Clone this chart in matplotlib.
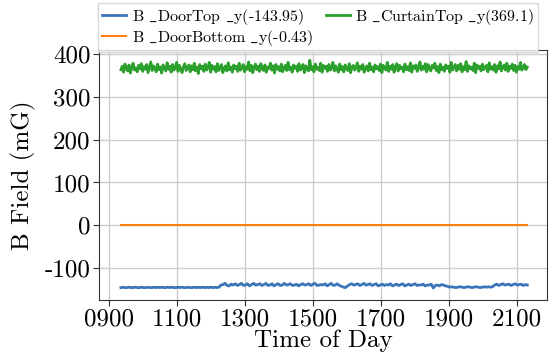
import numpy as np
import matplotlib
matplotlib.use("Agg")
import matplotlib.pyplot as plt

plt.rcParams["font.family"] = ["cmr10", "DejaVu Serif"]
plt.rcParams["mathtext.fontset"] = "cm"
plt.rcParams["axes.unicode_minus"] = False
plt.rcParams["axes.formatter.use_mathtext"] = False

t_start, t_end = 9.35, 21.3  # hours

# sensor readings, mG
door_top = [
    -146, -145, -146, -146, -145, -146, -146, -145, -146, -146,
    -145, -146, -146, -145, -146, -146, -145, -146, -145, -146,
    -145, -146, -146, -145, -146, -145, -146, -146, -145, -146,
    -145, -146, -146, -145, -146, -146, -145, -146, -145, -146,
    -145, -146, -145, -146, -145, -146, -145, -146, -145, -140,
    -139, -136, -141, -142, -138, -140, -137, -141, -139, -136,
    -141, -140, -137, -142, -139, -136, -140, -139, -137, -141,
    -139, -136, -141, -140, -137, -142, -139, -137, -141, -140,
    -136, -140, -139, -137, -141, -140, -138, -142, -139, -137,
    -140, -139, -137, -141, -138, -136, -141, -140, -139, -140,
    -137, -142, -139, -136, -141, -140, -137, -141, -143, -145,
    -146, -142, -139, -137, -140, -139, -137, -141, -139, -136,
    -140, -139, -137, -141, -139, -137, -142, -140, -138, -141,
    -139, -140, -137, -142, -140, -138, -141, -139, -137, -142,
    -140, -138, -141, -139, -137, -141, -140, -140, -138, -142,
    -140, -140, -138, -147, -141, -140, -142, -139, -140, -142,
    -143, -145, -144, -145, -146, -145, -144, -145, -146, -145,
    -144, -145, -146, -145, -144, -145, -146, -145, -144, -145,
    -144, -145, -144, -140, -138, -141, -139, -137, -140, -139,
    -138, -141, -139, -137, -140, -139, -138, -141, -139, -140,
]

door_bottom = [-0.43, -0.43]

curtain_top = [
    364, 372, 358, 377, 367, 361, 375, 356, 370, 379, 363, 368, 359, 374, 366,
    378, 360, 371, 365, 376, 357, 369, 382, 362, 373, 367, 359, 377, 364, 370,
    356, 375, 368, 361, 380, 365, 372, 358, 376, 363, 369, 381, 360, 374, 366,
    357, 371, 378, 362, 367, 375, 359, 373, 364, 379, 361, 370, 355, 376, 366,
    372, 360, 377, 363, 368, 381, 358, 374, 365, 371, 359, 378, 362, 369, 376,
    357, 367, 373, 361, 380, 364, 370, 358, 375, 366, 372, 360, 379, 363, 368,
    376, 359, 371, 365, 382, 361, 374, 357, 369, 377, 364, 372, 360, 378, 366,
    362, 375, 358, 370, 367, 379, 363, 373, 356, 376, 365, 371, 361, 377, 359,
    368, 374, 362, 381, 364, 370, 358, 375, 367, 372, 360, 378, 363, 369, 376,
    357, 373, 366, 361, 386, 364, 371, 359, 377, 365, 370, 362, 379, 358, 374,
    367, 372, 360, 376, 363, 368, 381, 361, 373, 365, 358, 377, 364, 371, 359,
    375, 366, 362, 378, 357, 370, 374, 363, 369, 380, 360, 372, 365, 376, 358,
    367, 373, 361, 379, 364, 370, 359, 375, 366, 371, 362, 377, 357, 374, 368,
    363, 381, 360, 372, 365, 376, 358, 369, 378, 361, 374, 366, 370, 359, 377,
    364, 371, 362, 380, 358, 373, 367, 375, 360, 369, 382, 363, 372, 365, 378,
    359, 376, 366, 361, 374, 368, 379, 362, 371, 357, 377, 364, 370, 360, 375,
    367, 372, 358, 381, 363, 369, 376, 361, 374, 365, 378, 359, 371, 364, 383,
    360, 373, 366, 370, 362, 379, 357, 375, 367, 372, 361, 377, 364, 369, 374,
    359, 380, 365, 371, 363, 376, 358, 373, 366, 382, 361, 370, 375, 363, 379,
    360, 372, 367, 377, 362, 374, 358, 371, 365, 381, 363, 369, 376, 364, 370,
]

labels = ["B $\\_$DoorTop $\\_$y(-143.95)", "B $\\_$DoorBottom $\\_$y(-0.43)",
          "B $\\_$CurtainTop $\\_$y(369.1)"]
hour_ticks = [9, 11, 13, 15, 17, 19, 21]

W, H = 558, 358
fig, ax = plt.subplots(figsize=(W / 100, H / 100), dpi=100)
fig.subplots_adjust(left=99 / W, right=547 / W, top=1 - 50 / H, bottom=1 - 300 / H)

series = [door_top, door_bottom, curtain_top]
colors = ["#3a75b9", "#ff7f0e", "#2ca02c"]
widths = [2.0, 1.5, 2.0]
for vals, c, lw, lab in zip(series, colors, widths, labels):
    tt = np.linspace(t_start, t_end, len(vals))
    ax.plot(tt, vals, color=c, lw=lw, label=lab)

ax.set_xlim(8.706, 21.88)
ax.set_ylim(-175, 410)
ax.set_xticks(hour_ticks)
ax.set_xticklabels([f"{h:02d}00" for h in hour_ticks])
ax.set_yticks([-100, 0, 100, 200, 300, 400])
ax.tick_params(labelsize=18, length=4, pad=2, color="#333333")
ax.grid(True, color="#cccccc", lw=1)
for s in ax.spines.values():
    s.set_color("#333333")
ax.set_xlabel("Time of Day", fontsize=18, labelpad=-1)
ax.set_ylabel("B Field (mG)", fontsize=18, labelpad=6)

# legend sits in the strip above the axes
ax.legend(ncol=2, loc="upper left",
          bbox_to_anchor=(98 / W, 1 - 3 / H, 440 / W, 0), bbox_transform=fig.transFigure,
          mode="expand", fontsize=11.5, borderaxespad=0, frameon=True,
          fancybox=False, edgecolor="#cccccc", handlelength=1.5,
          handletextpad=0.35, labelspacing=0.05, borderpad=0.25,
          columnspacing=1.0)

fig.savefig("out.png", dpi=100)
